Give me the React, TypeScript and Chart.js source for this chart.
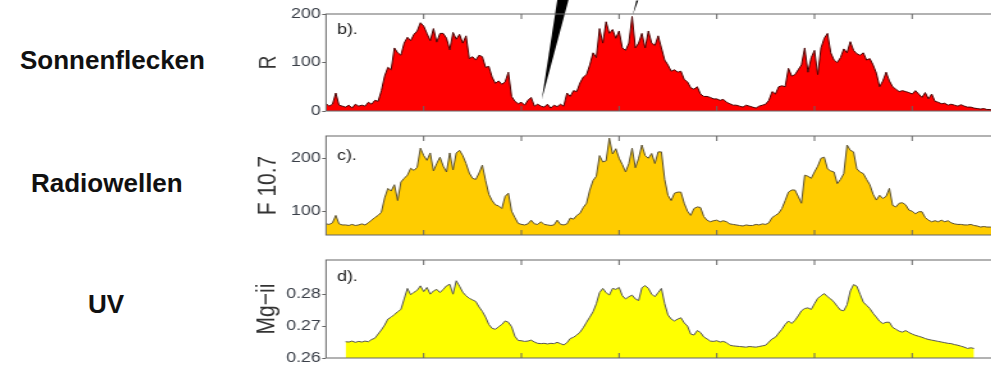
import React, { useEffect, useRef } from "react";
import { Chart, registerables } from "chart.js";

Chart.register(...registerables);

// ---- time axis (two-month steps starting 1975.0) ----
const START_YEAR = 1975;
const STEPS_PER_YEAR = 6;
const X_MIN = 1975;
const X_MAX = 2009.5;
const X_TICKS = [1975, 1980, 1985, 1990, 1995, 2000, 2005];

// ---- panel b: sunspot number R ----
const SUNSPOTS = [
  15, 10, 14, 37, 12, 10,
  8, 12, 6, 14, 10, 12,
  10, 18, 14, 22, 20, 42,
  72, 90, 85, 130, 120, 115,
  140, 152, 145, 158, 165, 182,
  175, 160, 145, 170, 142, 160,
  160, 150, 126, 162, 148, 158,
  140, 155, 108, 112, 105, 115,
  112, 90, 92, 70, 57, 62,
  55, 60, 80, 30, 20, 15,
  18, 12, 22, 28, 10, 14,
  10, 8, 14, 6, 12, 9,
  14, 10, 37, 30, 42, 40,
  58, 70, 75, 95, 120, 110,
  170, 140, 184, 160, 168, 150,
  165, 130, 125, 140, 195, 130,
  140, 160, 130, 165, 140, 135,
  155, 130, 105, 95, 82, 85,
  80, 82, 65, 60, 48, 45,
  50, 35, 30, 30, 28, 25,
  25, 22, 24, 18, 15, 12,
  12, 10, 8, 12, 10, 8,
  6, 10, 12, 14, 22, 40,
  35, 50, 52, 50, 88, 72,
  75, 85, 95, 130, 80, 110,
  125, 75, 130, 150, 160, 120,
  105, 100, 110, 128, 120, 143,
  125, 118, 115, 120, 105, 108,
  95, 78, 50, 62, 80, 62,
  50, 45, 40, 42, 40, 38,
  35, 42, 35, 28, 38, 25,
  35, 20, 18, 15, 16, 12,
  14, 12, 10, 13, 10, 8,
  8, 6, 5, 4, 5, 3,
  3, 2, 4,
];
const R_TICKS = [0, 100, 200];

// ---- panel c: F10.7 radio flux ----
const F107 = [
  76, 75, 78, 92, 76, 74,
  74, 73, 75, 73, 74, 76,
  74, 78, 83, 88, 92, 98,
  125, 143, 138, 150, 120, 155,
  162, 168, 181, 177, 183, 219,
  205, 196, 210, 176, 190, 202,
  185, 174, 210, 178, 210, 215,
  205, 190, 172, 162, 160, 172,
  187, 158, 132, 120, 112, 110,
  105, 128, 134, 100, 88, 77,
  75, 74, 76, 83, 76, 75,
  80, 75, 74, 73, 74, 83,
  75, 74, 76, 87, 85, 92,
  96, 107, 115, 140, 158, 166,
  205, 193, 195, 238, 208, 218,
  200, 188, 174, 190, 219, 182,
  200, 225, 205, 200, 209, 190,
  212, 212, 160, 130, 120, 134,
  136, 136, 115, 100, 92, 105,
  108, 107, 90, 83, 80, 82,
  83, 80, 82, 80, 76, 75,
  74, 73, 72, 74, 73, 73,
  75, 74, 76, 75, 78, 88,
  92, 96, 105, 120, 136, 140,
  140, 128, 115, 168, 166, 162,
  174, 185, 200, 202, 180, 176,
  174, 152, 160, 171, 225, 215,
  212, 180, 174, 171, 160, 150,
  132, 121, 130, 124, 128, 143,
  111, 108, 115, 116, 112, 102,
  100, 95, 99, 99, 88, 83,
  80, 82, 80, 83, 80, 82,
  78, 76, 75, 75, 74, 74,
  75, 73, 72, 70, 71, 70,
  70, 69, 70,
];
const F_TICKS = [100, 200];

// ---- panel d: Mg II index ----
const MGII = [
  null, null, null, null, null, null,
  0.2651, 0.265, 0.2653, 0.2649, 0.2652, 0.265,
  0.2653, 0.2651, 0.2658, 0.2662, 0.2675, 0.2688,
  0.2703, 0.2722, 0.2728, 0.2736, 0.2745, 0.2752,
  0.2785, 0.2818, 0.2798, 0.2806, 0.2812, 0.2826,
  0.2808, 0.2821, 0.28, 0.281, 0.2815, 0.2805,
  0.2815, 0.2826, 0.2831, 0.28, 0.2842, 0.2825,
  0.2806, 0.2795, 0.2787, 0.2782, 0.2777, 0.276,
  0.2746, 0.2728, 0.2705, 0.2693, 0.269, 0.2698,
  0.2705, 0.2716, 0.2712, 0.2698, 0.2668, 0.2655,
  0.2654, 0.2652, 0.2653, 0.2656, 0.265, 0.2646,
  0.2645, 0.2646, 0.2644, 0.2646, 0.2645, 0.2649,
  0.2645, 0.2641, 0.2648, 0.2661, 0.2665, 0.2672,
  0.2681, 0.2695, 0.2712, 0.2728, 0.2745, 0.277,
  0.2805, 0.2818, 0.2805, 0.2797, 0.2818, 0.2815,
  0.2821, 0.2795, 0.2785, 0.2792, 0.2797, 0.2785,
  0.278, 0.282, 0.2827, 0.2818, 0.28, 0.2792,
  0.2805, 0.2818, 0.277, 0.2735, 0.2722, 0.2716,
  0.2722, 0.2726, 0.271, 0.27, 0.2675, 0.2672,
  0.2686, 0.268, 0.2666, 0.266, 0.2653, 0.2652,
  0.2654, 0.265, 0.2652, 0.2648, 0.264, 0.2638,
  0.2637, 0.2636, 0.2635, 0.2634, 0.2636, 0.2635,
  0.2634, 0.2636, 0.2638, 0.264, 0.265, 0.266,
  0.2665, 0.2678, 0.269, 0.2705, 0.2716, 0.2708,
  0.2718, 0.2732, 0.2748, 0.2755, 0.2757, 0.2752,
  0.277, 0.2787, 0.2795, 0.2802, 0.2792, 0.2785,
  0.2775, 0.2762, 0.275, 0.2748, 0.2767, 0.281,
  0.283, 0.2825, 0.28, 0.2775, 0.2765, 0.2755,
  0.274, 0.2728, 0.2715, 0.2708, 0.2712, 0.2712,
  0.2696, 0.269, 0.2684, 0.2681, 0.2686, 0.268,
  0.2675, 0.2671, 0.2668, 0.2665, 0.2661, 0.2658,
  0.2656, 0.2654, 0.2652, 0.265, 0.2648, 0.2646,
  0.2645, 0.2642, 0.264, 0.2637, 0.2634, 0.263,
  0.2632, 0.263,
];
const MG_TICKS = [0.26, 0.27, 0.28];

// ---- black pointer marks over panel b (data coordinates) ----
const WEDGE_X = [1986.04, 1986.86, 1987.45];
const WEDGE_Y = [23, 235, 235];
const SLASH_X = [1990.7, 1990.88, 1990.98];
const SLASH_Y = [198, 228, 228];

// ---- layout helpers ----
const FONT = "'Liberation Sans', Arial, Helvetica, sans-serif";
const S = 1.28; // horizontal stretch of the original figure
const CANVAS_LEFT = 250;
const CANVAS_W = Math.round(750 / S);
const AXIS_W = 76 / S;

type Poly = { xs: number[]; ys: number[] };

type PanelProps = {
  top: number;
  height: number;
  padTop: number;
  padBottom: number;
  values: (number | null)[];
  fill: string;
  stroke: string;
  yMin: number;
  yMax: number;
  yTicks: number[];
  decimals: number;
  title: string;
  titleSize: number;
  titlePad: number;
  tag: string;
  tagDy: number;
  polys?: Poly[];
};

function toPoints(values: (number | null)[]) {
  return values.map((v, i) => ({ x: START_YEAR + i / STEPS_PER_YEAR, y: v }));
}

function Panel(p: PanelProps) {
  const ref = useRef<HTMLCanvasElement>(null);
  useEffect(() => {
    const canvas = ref.current!;
    const framePlugin = {
      id: "frame",
      afterDatasetsDraw(chart: any) {
        const { ctx, chartArea: a } = chart;
        const xs = chart.scales.x;
        const ys = chart.scales.y;
        ctx.save();
        (p.polys || []).forEach((poly) => {
          ctx.beginPath();
          poly.xs.forEach((xv, i) => {
            const px = xs.getPixelForValue(xv);
            const py = ys.getPixelForValue(poly.ys[i]);
            if (i === 0) ctx.moveTo(px, py);
            else ctx.lineTo(px, py);
          });
          ctx.closePath();
          ctx.fillStyle = "#000";
          ctx.fill();
        });
        ctx.strokeStyle = "#666";
        ctx.lineWidth = 1;
        ctx.strokeRect(a.left, a.top, a.right - a.left, a.bottom - a.top);
        ctx.beginPath();
        X_TICKS.forEach((t) => {
          const px = xs.getPixelForValue(t);
          if (px <= a.left + 1 || px >= a.right) return;
          ctx.moveTo(px, a.top);
          ctx.lineTo(px, a.top + 5);
          ctx.moveTo(px, a.bottom);
          ctx.lineTo(px, a.bottom - 5);
        });
        ctx.stroke();
        ctx.fillStyle = "#222";
        ctx.font = `14px ${FONT}`;
        ctx.textBaseline = "middle";
        ctx.textAlign = "left";
        ctx.fillText(p.tag, a.left + 8.5, a.top + p.tagDy);
        ctx.restore();
      },
    };
    const chart = new Chart(canvas, {
      type: "line",
      data: {
        datasets: [
          {
            data: toPoints(p.values) as any,
            borderColor: p.stroke,
            backgroundColor: p.fill,
            borderWidth: 1,
            pointRadius: 0,
            fill: "start",
            tension: 0,
            spanGaps: false,
          },
        ],
      },
      options: {
        animation: false,
        responsive: false,
        events: [],
        layout: { padding: { top: p.padTop, bottom: p.padBottom, left: 0, right: 0 } },
        plugins: { legend: { display: false }, tooltip: { enabled: false } },
        scales: {
          x: { type: "linear", min: X_MIN, max: X_MAX, display: false },
          y: {
            type: "linear",
            min: p.yMin,
            max: p.yMax,
            afterBuildTicks: (s: any) => {
              s.ticks = p.yTicks.map((v) => ({ value: v }));
            },
            afterFit: (s: any) => {
              s.width = AXIS_W;
            },
            grid: {
              display: true,
              drawOnChartArea: false,
              drawTicks: true,
              tickLength: 3,
              color: "#666",
            },
            border: { display: false },
            ticks: {
              padding: 1,
              color: "#3a3f48",
              font: { family: FONT, size: 14 },
              callback: (v: any) => Number(v).toFixed(p.decimals),
            },
            title: {
              display: true,
              text: p.title,
              color: "#333",
              font: { family: FONT, size: p.titleSize },
              padding: { top: p.titlePad, bottom: 0 },
            },
          },
        },
      },
      plugins: [framePlugin],
    } as any);
    return () => chart.destroy();
  }, []);
  return (
    <canvas
      ref={ref}
      width={CANVAS_W}
      height={p.height}
      style={{
        position: "absolute",
        left: CANVAS_LEFT,
        top: p.top,
        width: CANVAS_W,
        height: p.height,
        transform: `scaleX(${S})`,
        transformOrigin: "0 0",
      }}
    />
  );
}

const labelStyle: React.CSSProperties = {
  position: "absolute",
  fontFamily: FONT,
  fontWeight: "bold",
  fontSize: 26,
  lineHeight: "30px",
  color: "#111",
  whiteSpace: "nowrap",
};

export default function App() {
  return (
    <div
      style={{
        position: "fixed",
        left: 0,
        top: 0,
        width: 991,
        height: 368,
        overflow: "hidden",
        background: "#fff",
      }}
    >
      <div style={{ ...labelStyle, left: 20, top: 45 }}>Sonnenflecken</div>
      <div style={{ ...labelStyle, left: 31, top: 168 }}>Radiowellen</div>
      <div style={{ ...labelStyle, left: 88, top: 289 }}>UV</div>
      <Panel
        top={0}
        height={125}
        padTop={14}
        padBottom={14}
        values={SUNSPOTS}
        fill="#ff0000"
        stroke="#4a0000"
        yMin={0}
        yMax={200}
        yTicks={R_TICKS}
        decimals={0}
        title="R"
        titleSize={19}
        titlePad={3}
        tag="b)."
        tagDy={16}
        polys={[
          { xs: WEDGE_X, ys: WEDGE_Y },
          { xs: SLASH_X, ys: SLASH_Y },
        ]}
      />
      <Panel
        top={125}
        height={120}
        padTop={11}
        padBottom={10}
        values={F107}
        fill="#ffcc00"
        stroke="#5a5030"
        yMin={55}
        yMax={242}
        yTicks={F_TICKS}
        decimals={0}
        title="F 10.7"
        titleSize={21}
        titlePad={2}
        tag="c)."
        tagDy={20}
      />
      <Panel
        top={245}
        height={123}
        padTop={15}
        padBottom={10}
        values={MGII}
        fill="#ffff00"
        stroke="#555"
        yMin={0.26}
        yMax={0.2907}
        yTicks={MG_TICKS}
        decimals={2}
        title="Mg−ii"
        titleSize={21}
        titlePad={1}
        tag="d)."
        tagDy={17}
      />
    </div>
  );
}
